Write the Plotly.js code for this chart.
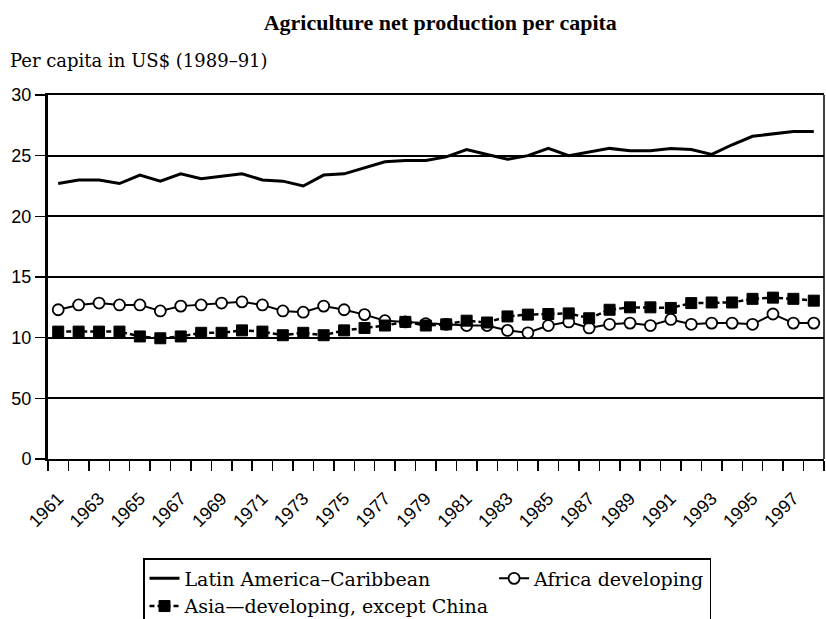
<!DOCTYPE html>
<html>
<head>
<meta charset="utf-8">
<script src="https://cdn.plot.ly/plotly-3.0.1.min.js"></script>
<style>html,body{margin:0;padding:0;background:#fff;}#chart{width:826px;height:619px;}</style>
</head>
<body>
<div id="chart"></div>
<script>
var years = [1961,1962,1963,1964,1965,1966,1967,1968,1969,1970,1971,1972,1973,1974,1975,1976,1977,1978,1979,1980,1981,1982,1983,1984,1985,1986,1987,1988,1989,1990,1991,1992,1993,1994,1995,1996,1997,1998];
var latinAmerica = [22.7,23.0,23.0,22.7,23.4,22.9,23.5,23.1,23.3,23.5,23.0,22.9,22.5,23.4,23.5,24.0,24.5,24.6,24.6,24.9,25.5,25.1,24.7,25.0,25.6,25.0,25.3,25.6,25.4,25.4,25.6,25.5,25.1,25.9,26.6,26.8,27.0,27.0];
var africa = [12.3,12.7,12.85,12.7,12.7,12.2,12.6,12.7,12.85,12.95,12.7,12.2,12.1,12.6,12.3,11.9,11.4,11.3,11.15,11.1,11.0,11.0,10.6,10.4,11.0,11.3,10.8,11.1,11.2,11.0,11.5,11.1,11.2,11.2,11.1,11.95,11.2,11.2];
var asia = [10.5,10.5,10.5,10.5,10.1,9.95,10.1,10.4,10.4,10.6,10.5,10.2,10.4,10.2,10.6,10.8,11.0,11.3,11.0,11.1,11.4,11.25,11.75,11.9,11.95,12.0,11.6,12.3,12.5,12.5,12.45,12.85,12.9,12.9,13.2,13.3,13.2,13.05];
var xTickYears = [1961,1963,1965,1967,1969,1971,1973,1975,1977,1979,1981,1983,1985,1987,1989,1991,1993,1995,1997];
var xTickLabels = ['1961','1963','1965','1967','1969','1971','1973','1975','1977','1979','1981','1983','1985','1987','1989','1991','1993','1995','1997'];
var yTickVals = [0,5,10,15,20,25,30];
var yTickLabels = ['0','50','10','15','20','25','30'];
var seriesNames = ['Latin America–Caribbean','Africa developing','Asia—developing, except China'];
var titleText = 'Agriculture net production per capita';
var yTitleText = 'Per capita in US$ (1989–91)';

var traces = [
  {x: years, y: latinAmerica, name: seriesNames[0], type: 'scatter', mode: 'lines',
   line: {color: '#000', width: 3}},
  {x: years, y: africa, name: seriesNames[1], type: 'scatter', mode: 'lines+markers',
   line: {color: '#000', width: 2},
   marker: {symbol: 'circle', size: 11, color: '#fff', line: {color: '#000', width: 1.8}}},
  {x: years, y: asia, name: seriesNames[2], type: 'scatter', mode: 'lines+markers',
   line: {color: '#000', width: 2.5, dash: '5px,3px'},
   marker: {symbol: 'square', size: 11, color: '#000', line: {color: '#000', width: 1}}}
];

var layout = {
  width: 826, height: 619,
  paper_bgcolor: '#fff', plot_bgcolor: '#fff',
  margin: {l: 48, r: 2, t: 95, b: 160, autoexpand: false},
  showlegend: true,
  title: {text: titleText, x: 0.533, xanchor: 'center', y: 1 - 22/619, yanchor: 'middle',
          font: {family: 'Liberation Serif, Times New Roman, serif', size: 22, color: '#000', weight: 'bold'}},
  xaxis: {
    range: [1960.5, 1998.5], showgrid: false, zeroline: false,
    showline: true, linecolor: '#000', linewidth: 2, mirror: true,
    tickmode: 'array', tickvals: xTickYears, ticktext: xTickLabels,
    ticks: 'outside', ticklen: 10, tickcolor: 'rgba(0,0,0,0)', tickangle: -45,
    ticklabelstandoff: 10,
    tickfont: {family: 'Liberation Sans, Arial, sans-serif', size: 18, color: '#000'},
    minor: {tickmode: 'linear', tick0: 1960.5, dtick: 1, ticks: 'outside', ticklen: 10,
            tickwidth: 1.5, tickcolor: '#000', showgrid: false}
  },
  yaxis: {
    range: [0, 30], zeroline: false,
    showline: true, linecolor: '#000', linewidth: 3,
    showgrid: true, gridcolor: '#000', gridwidth: 2,
    tickmode: 'array', tickvals: yTickVals, ticktext: yTickLabels,
    ticks: 'outside', ticklen: 10, tickwidth: 1.5, tickcolor: '#000',
    tickfont: {family: 'Liberation Sans, Arial, sans-serif', size: 18, color: '#000'}
  },
  legend: {
    orientation: 'h', x: (143 - 48) / 776, xanchor: 'left', y: (459 - 558) / 364, yanchor: 'top',
    bgcolor: '#fff', bordercolor: '#000', borderwidth: 1.5,
    font: {family: 'DejaVu Serif, serif', size: 19, color: '#000'},
    traceorder: 'normal'
  },
  annotations: [{
    text: yTitleText, xref: 'paper', yref: 'paper', x: 0, y: 1, xanchor: 'left', yanchor: 'middle',
    xshift: -40, yshift: 35, showarrow: false,
    font: {family: 'DejaVu Serif, serif', size: 18, color: '#000'}
  }],
  shapes: [{type: 'line', xref: 'paper', yref: 'paper', x0: 1, x1: 1, y0: 0, y1: 1,
            line: {color: '#000', width: 1.5}}]
};

Plotly.newPlot('chart', traces, layout, {displayModeBar: false, staticPlot: true});
</script>
</body>
</html>
